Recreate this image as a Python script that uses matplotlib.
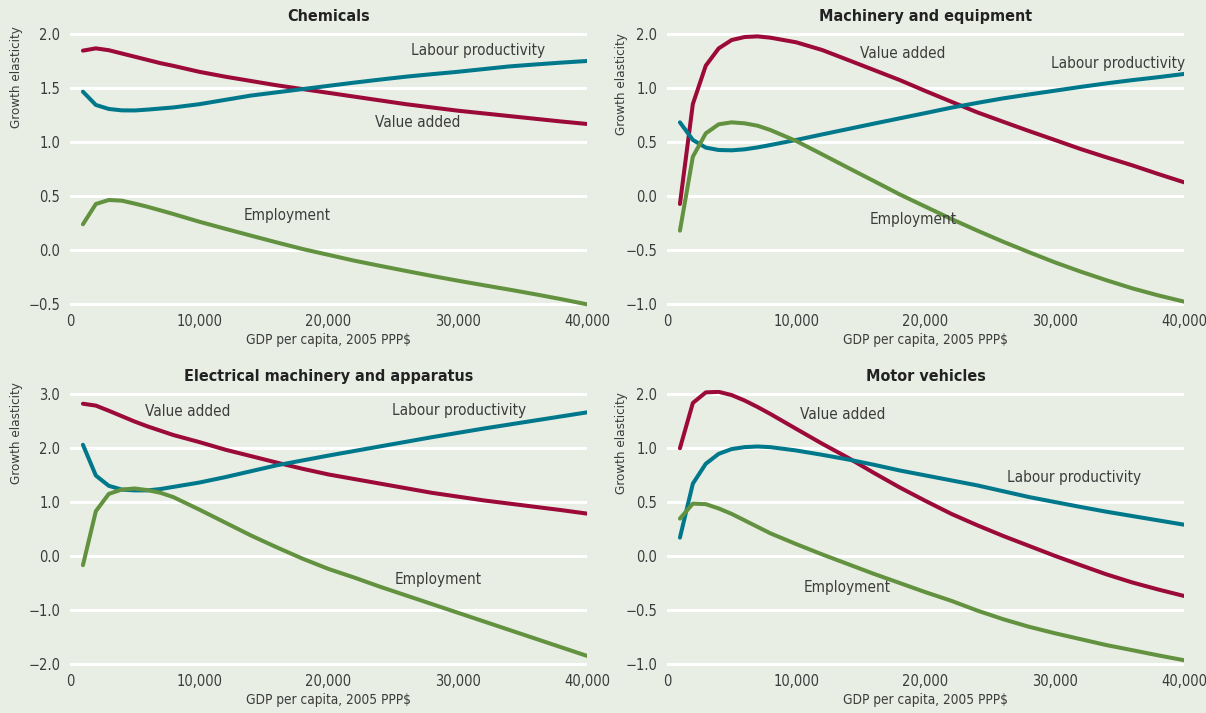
import matplotlib
matplotlib.use("Agg")
import matplotlib.pyplot as plt
from matplotlib.ticker import FuncFormatter

plt.rcParams['font.family'] = ['DejaVu Sans']
plt.rcParams['font.stretch'] = 'condensed'

# GDP per capita, 2005 PPP$
gdp = [1000, 2000, 3000, 4000, 5000, 6000, 7000, 8000, 10000, 12000, 14000, 16000,
       18000, 20000, 22000, 24000, 26000, 28000, 30000, 32000, 34000, 36000, 38000, 40000]

# Chemicals
chem_va = [1.846, 1.867, 1.85, 1.82, 1.79, 1.76, 1.73, 1.705, 1.65, 1.605, 1.565, 1.525,
           1.49, 1.455, 1.42, 1.385, 1.35, 1.32, 1.29, 1.265, 1.24, 1.215, 1.19, 1.167]
chem_lp = [1.466, 1.343, 1.306, 1.293, 1.292, 1.30, 1.31, 1.32, 1.35, 1.39, 1.43, 1.46,
           1.49, 1.52, 1.55, 1.578, 1.605, 1.628, 1.65, 1.675, 1.70, 1.718, 1.735, 1.75]
chem_emp = [0.238, 0.426, 0.463, 0.457, 0.43, 0.40, 0.367, 0.333, 0.262, 0.197, 0.133, 0.07,
            0.009, -0.045, -0.099, -0.147, -0.194, -0.24, -0.284, -0.326, -0.367, -0.41, -0.455, -0.503]

# Machinery and equipment
mach_va = [-0.074, 0.852, 1.207, 1.367, 1.444, 1.472, 1.478, 1.466, 1.423, 1.352, 1.26, 1.167,
           1.074, 0.972, 0.873, 0.775, 0.688, 0.602, 0.519, 0.435, 0.358, 0.284, 0.204, 0.127]
mach_lp = [0.682, 0.519, 0.448, 0.426, 0.423, 0.432, 0.45, 0.472, 0.519, 0.57, 0.62, 0.67,
           0.719, 0.768, 0.818, 0.862, 0.904, 0.94, 0.975, 1.01, 1.043, 1.073, 1.10, 1.13]
mach_emp = [-0.321, 0.364, 0.58, 0.664, 0.682, 0.673, 0.651, 0.611, 0.509, 0.386, 0.262, 0.139,
            0.015, -0.099, -0.213, -0.32, -0.423, -0.52, -0.614, -0.70, -0.78, -0.855, -0.92, -0.978]

# Electrical machinery and apparatus
elec_va = [2.82, 2.785, 2.69, 2.59, 2.49, 2.40, 2.32, 2.24, 2.11, 1.97, 1.85, 1.73,
           1.615, 1.51, 1.425, 1.34, 1.255, 1.17, 1.10, 1.03, 0.97, 0.91, 0.85, 0.785]
elec_lp = [2.06, 1.49, 1.30, 1.23, 1.215, 1.215, 1.24, 1.28, 1.36, 1.46, 1.57, 1.68,
           1.77, 1.86, 1.945, 2.03, 2.115, 2.2, 2.28, 2.36, 2.435, 2.51, 2.585, 2.66]
elec_emp = [-0.17, 0.83, 1.15, 1.23, 1.25, 1.22, 1.17, 1.09, 0.86, 0.62, 0.38, 0.16,
            -0.05, -0.24, -0.40, -0.57, -0.73, -0.89, -1.05, -1.21, -1.37, -1.53, -1.69, -1.85]

# Motor vehicles
motor_va = [0.998, 1.417, 1.515, 1.52, 1.49, 1.44, 1.38, 1.315, 1.177, 1.04, 0.91, 0.77,
            0.635, 0.51, 0.39, 0.285, 0.186, 0.094, 0.002, -0.085, -0.17, -0.245, -0.31, -0.37]
motor_lp = [0.17, 0.67, 0.854, 0.946, 0.99, 1.008, 1.014, 1.008, 0.977, 0.937, 0.894, 0.845,
            0.792, 0.746, 0.70, 0.654, 0.60, 0.546, 0.50, 0.454, 0.41, 0.37, 0.33, 0.29]
motor_emp = [0.346, 0.485, 0.48, 0.44, 0.39, 0.33, 0.27, 0.21, 0.11, 0.015, -0.075, -0.165,
             -0.25, -0.335, -0.415, -0.505, -0.585, -0.655, -0.715, -0.77, -0.825, -0.872, -0.92, -0.965]

# tick positions and labels as printed in the original
ticks_chem = [-0.5, 0.0, 0.5, 1.0, 1.5, 2.0]
labels_chem = ['\u22120.5', '0.0', '0.5', '1.0', '1.5', '2.0']
ticks_mach = [-1.0, -0.5, 0.0, 0.5, 1.0, 1.5]
labels_mach = ['\u22121.0', '\u22120.5', '0.0', '0.5', '1.0', '2.0']
ticks_elec = [-2.0, -1.0, 0.0, 1.0, 2.0, 3.0]
labels_elec = ['\u22122.0', '\u22121.0', '0.0', '1.0', '2.0', '3.0']

BG = '#e9eee4'
C_VA = '#9b0a38'
C_LP = '#00788c'
C_EMP = '#62923f'
TXT = '#3c3c3c'

W, H = 1206, 713
fig = plt.figure(figsize=(W / 100, H / 100), dpi=100, facecolor=BG)

panels = [
    # title, left px, top px, va, lp, emp, ticks, labels, text positions
    ("Chemicals", 70, 34, chem_va, chem_lp, chem_emp, ticks_chem, labels_chem,
     [(26400, 1.85), (23600, 1.176), (13400, 0.315)]),
    ("Machinery and equipment", 667, 34, mach_va, mach_lp, mach_emp, ticks_mach, labels_mach,
     [(29700, 1.23), (14900, 1.324), (15700, -0.222)]),
    ("Electrical machinery and apparatus", 70, 394, elec_va, elec_lp, elec_emp, ticks_elec, labels_elec,
     [(24900, 2.70), (5800, 2.685), (25100, -0.43)]),
    ("Motor vehicles", 667, 394, motor_va, motor_lp, motor_emp, ticks_mach, labels_mach,
     [(26300, 0.731), (10300, 1.306), (10600, -0.296)]),
]

ax_w = 517
grid_h = 270
for title, left, top, va, lp, emp, ticks, labels, pos in panels:
    span = ticks[-1] - ticks[0]
    pad = span * 0.016
    pad_px = grid_h * 0.016
    ax = fig.add_axes([left / W, 1 - (top + grid_h + pad_px) / H,
                       ax_w / W, (grid_h + 2 * pad_px) / H])
    ax.set_facecolor(BG)
    ax.set_xlim(0, 40000)
    ax.set_ylim(ticks[0] - pad, ticks[-1] + pad)
    for s in ax.spines.values():
        s.set_visible(False)
    ax.set_yticks(ticks)
    ax.set_yticklabels(labels)
    ax.set_xticks([0, 10000, 20000, 30000, 40000])
    ax.xaxis.set_major_formatter(FuncFormatter(lambda v, p: f"{int(v):,}"))
    ax.tick_params(length=0, labelsize=10.5, colors=TXT, pad=7)
    ax.tick_params(axis='x', pad=4)
    ax.grid(axis='y', color='white', lw=2.2)
    ax.set_axisbelow(True)

    ax.plot(gdp, va, color=C_VA, lw=2.9, solid_capstyle='round')
    ax.plot(gdp, lp, color=C_LP, lw=2.9, solid_capstyle='round')
    ax.plot(gdp, emp, color=C_EMP, lw=2.9, solid_capstyle='round')

    for txt, (x, y) in zip(["Labour productivity", "Value added", "Employment"], pos):
        ax.text(x, y, txt, fontsize=11, color=TXT, va='center', ha='left')

    ax.set_title(title, fontsize=11.5, fontweight='bold', color='#222222', pad=6)
    ax.set_xlabel("GDP per capita, 2005 PPP$", fontsize=9.8, color=TXT, labelpad=3)

# y-axis labels
for x_px, y_px in [(17, 26), (621, 33), (17, 382), (621, 392)]:
    fig.text(x_px / W, 1 - y_px / H, "Growth elasticity", rotation=90, ha='center', va='top',
             fontsize=9.6, color=TXT)

fig.savefig("out.png", dpi=100, facecolor=BG)
